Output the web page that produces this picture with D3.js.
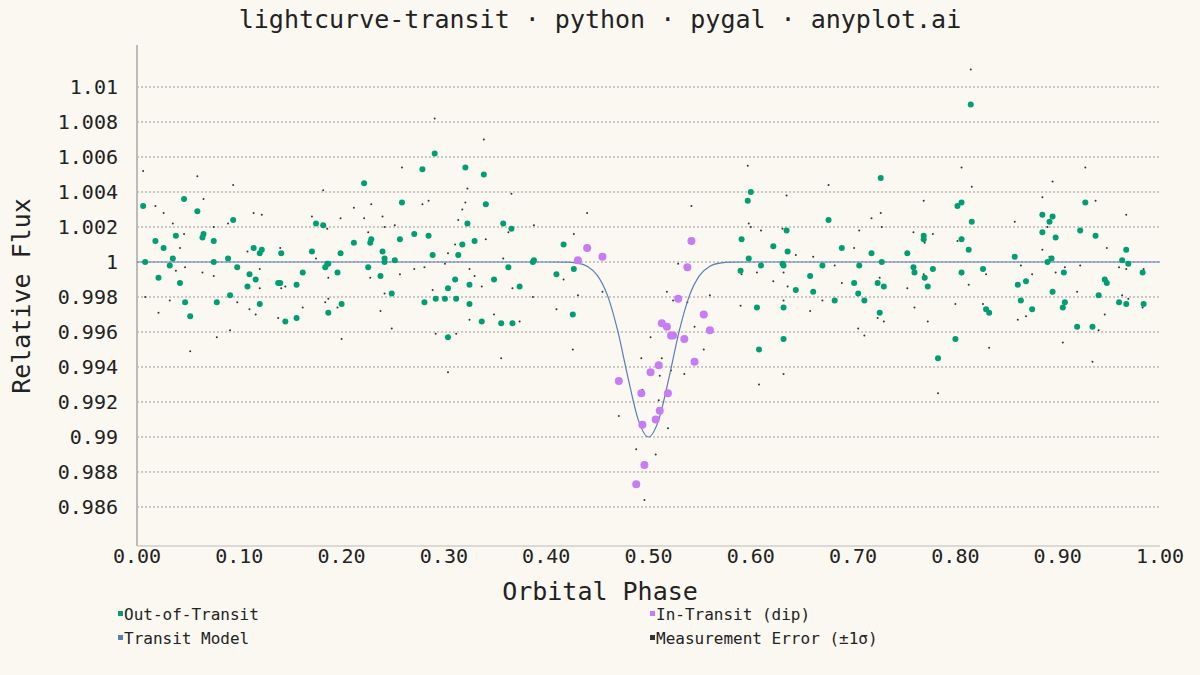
<!DOCTYPE html>
<html><head><meta charset="utf-8">
<script src="https://cdn.jsdelivr.net/npm/d3@7"></script>
<style>
body{margin:0;background:#faf8f1;}
text{font-family:"DejaVu Sans Mono",monospace;fill:#222;}
</style></head>
<body><svg id="c" width="1200" height="675"></svg>
<script>
// out-of-transit observations [phase, flux]
const outPhase = [.006,.008,.018,.021,.026,.032,.035,.038,.042,.046,.047,.052,.059,.064,.065,.075,.075,.078,.089,.091,.094,.098,.108,.110,.114,.116,.120,.120,.122,.138,.140,.141,.145,.156,.156,.162,.171,.175,.182,.184,.186,.187,.187,.196,.199,.200,.212,.222,.226,.228,.229,.238,.240,.242,.242,.249,.252,.257,.259,.279,.291,.321,.339,.341,.323,.358,.366,.271,.285,.330,.318,.289,.314,.387,.388,.417,.363,.410,.427,.349,.311,.325,.304,.374,.281,.292,.301,.312,.325,.426,.337,.356,.367,.304,
.815,.600,.597,.727,.676,.591,.598,.590,.610,.622,.635,.636,.631,.632,.606,.608,.632,.632,.644,.658,.661,.670,.682,.689,.701,.705,.706,.711,.718,.724,.728,.730,.726,.753,.759,.760,.769,.769,.770,.773,.778,.783,.800,.802,.806,.806,.806,.813,.816,.827,.830,.833,.858,.861,.864,.869,.875,.885,.885,.892,.895,.898,.890,.894,.895,.906,.907,.905,.919,.922,.927,.934,.937,.946,.948,.940,.960,.963,.967,.969,.967,.983,.984];
const outFlux = [1.0032,1.0000,1.0012,.9991,1.0008,.9998,1.0002,1.0015,.9988,1.0036,.9977,.9969,1.0029,1.0014,1.0016,1.0012,1.0000,.9977,1.0002,.9981,1.0024,.9997,.9986,.9993,1.0008,.9990,.9976,1.0005,1.0007,.9988,.9988,1.0005,.9966,.9987,.9968,.9994,1.0006,1.0022,1.0021,.9997,.9999,.9999,.9971,.9994,1.0005,.9976,1.0011,1.0045,.9997,1.0011,1.0013,.9992,1.0006,1.0002,1.0000,.9982,1.0001,1.0013,1.0034,1.0053,1.0062,1.0054,1.0050,1.0033,1.0022,1.0022,1.0019,1.0016,1.0015,1.0012,1.0010,1.0004,1.0004,1.0000,1.0001,1.0010,.9997,.9993,.9996,.9990,.9990,.9987,.9985,.9986,.9977,.9979,.9979,.9979,.9976,.9970,.9966,.9965,.9965,.9957,
1.0090,1.0040,1.0035,1.0048,1.0024,1.0013,1.0002,.9995,.9998,1.0009,1.0018,1.0006,.9999,.9998,.9974,.9950,.9974,.9956,.9984,.9992,.9983,.9998,.9978,1.0008,.9988,.9982,.9998,.9978,1.0005,.9988,1.0000,.9986,.9971,1.0005,.9997,.9994,1.0015,1.0013,.9991,.9986,.9996,.9945,.9956,1.0032,1.0034,1.0013,.9994,1.0007,1.0023,.9996,.9973,.9971,1.0003,.9987,.9978,.9989,.9973,1.0027,1.0017,1.0023,1.0026,1.0014,1.0000,1.0002,.9983,.9994,.9977,.9974,.9963,1.0018,1.0034,.9963,1.0015,.9990,.9988,.9981,.9977,1.0001,1.0007,.9999,.9976,.9994,.9976];
// in-transit observations
const inPhase = [.431,.440,.455,.542,.538,.529,.554,.560,.513,.518,.522,.524,.535,.545,.510,.502,.471,.493,.519,.511,.507,.494,.496,.488];
const inFlux = [1.0001,1.0008,1.0003,1.0012,.9997,.9979,.9970,.9961,.9965,.9963,.9958,.9958,.9956,.9943,.9941,.9937,.9932,.9925,.9925,.9915,.9910,.9907,.9884,.9873];
// transit model
const modelPhase = [0,.40,.42,.43,.44,.45,.46,.47,.48,.49,.50,.51,.52,.53,.54,.55,.56,.57,.58,.60,1.0];
const modelFlux = [1,1,.99999,.99994,.99976,.99924,.99808,.99605,.99338,.99098,.99,.99098,.99338,.99605,.99808,.99924,.99976,.99994,.99999,1,1];
const sigma = 0.002;
const yTicks = [0.986,0.988,0.99,0.992,0.994,0.996,0.998,1,1.002,1.004,1.006,1.008,1.01];
const xTicks = [0,.1,.2,.3,.4,.5,.6,.7,.8,.9,1];

const GREEN="#009e73", PURPLE="#c77cf5", BLUE="#5b7db1", DARK="#333";
const svg = d3.select("#c");
const x = d3.scaleLinear().domain([0,1]).range([137,1160]);
const y = d3.scaleLinear().domain([0.98377,1.0124]).range([546,45]);

svg.append("text").attr("x",600).attr("y",28).attr("text-anchor","middle").attr("font-size",25)
  .text("lightcurve-transit · python · pygal · anyplot.ai");

// grid
svg.append("g").selectAll("line").data(yTicks).join("line")
  .attr("x1",137).attr("x2",1160).attr("y1",d=>y(d)).attr("y2",d=>y(d))
  .attr("stroke","#999").attr("stroke-dasharray","2,2").attr("stroke-width",1);
svg.append("g").selectAll("text").data(yTicks).join("text")
  .attr("x",118).attr("y",d=>y(d)+7).attr("text-anchor","end").attr("font-size",20)
  .text(d=>d3.format("")(+d.toFixed(3)));
svg.append("g").selectAll("text").data(xTicks).join("text")
  .attr("x",d=>x(d)).attr("y",563).attr("text-anchor","middle").attr("font-size",20)
  .text(d=>d.toFixed(2));
svg.append("line").attr("x1",137).attr("x2",137).attr("y1",45).attr("y2",546).attr("stroke","#bbb").attr("stroke-width",2);
svg.append("line").attr("x1",137).attr("x2",1160).attr("y1",546).attr("y2",546).attr("stroke","#bbb").attr("stroke-width",1);

svg.append("text").attr("x",600).attr("y",600).attr("text-anchor","middle").attr("font-size",25).text("Orbital Phase");
svg.append("text").attr("transform","translate(30,296) rotate(-90)").attr("text-anchor","middle").attr("font-size",25).text("Relative Flux");

const outPts = outPhase.map((p,i)=>[p,outFlux[i]]);
const inPts = inPhase.map((p,i)=>[p,inFlux[i]]);
// one error-bar end marker per observation, alternating side
const errPts = outPts.concat(inPts).map((d,i)=>[d[0], d[1] + (i % 2 ? -sigma : sigma)]);

svg.append("g").selectAll("circle").data(errPts).join("circle")
  .attr("cx",d=>x(d[0])).attr("cy",d=>y(d[1])).attr("r",1).attr("fill",DARK);
svg.append("path").datum(modelPhase.map((p,i)=>[p,modelFlux[i]]))
  .attr("d",d3.line().x(d=>x(d[0])).y(d=>y(d[1])).curve(d3.curveMonotoneX))
  .attr("fill","none").attr("stroke",BLUE).attr("stroke-width",1.2);
svg.append("g").selectAll("circle").data(outPts).join("circle")
  .attr("cx",d=>x(d[0])).attr("cy",d=>y(d[1])).attr("r",3).attr("fill",GREEN);
svg.append("g").selectAll("circle").data(inPts).join("circle")
  .attr("cx",d=>x(d[0])).attr("cy",d=>y(d[1])).attr("r",4).attr("fill",PURPLE);

const legend = [["Out-of-Transit",GREEN,118,615],["In-Transit (dip)",PURPLE,650,615],
  ["Transit Model",BLUE,118,639],["Measurement Error (±1σ)",DARK,650,639]];
const lg = svg.append("g").selectAll("g").data(legend).join("g")
  .attr("transform",d=>`translate(${d[2]},${d[3]})`);
lg.append("rect").attr("x",0).attr("y",-4).attr("width",5).attr("height",5).attr("fill",d=>d[1]);
lg.append("text").attr("x",6).attr("y",5).attr("font-size",16).text(d=>d[0]);
</script></body></html>
